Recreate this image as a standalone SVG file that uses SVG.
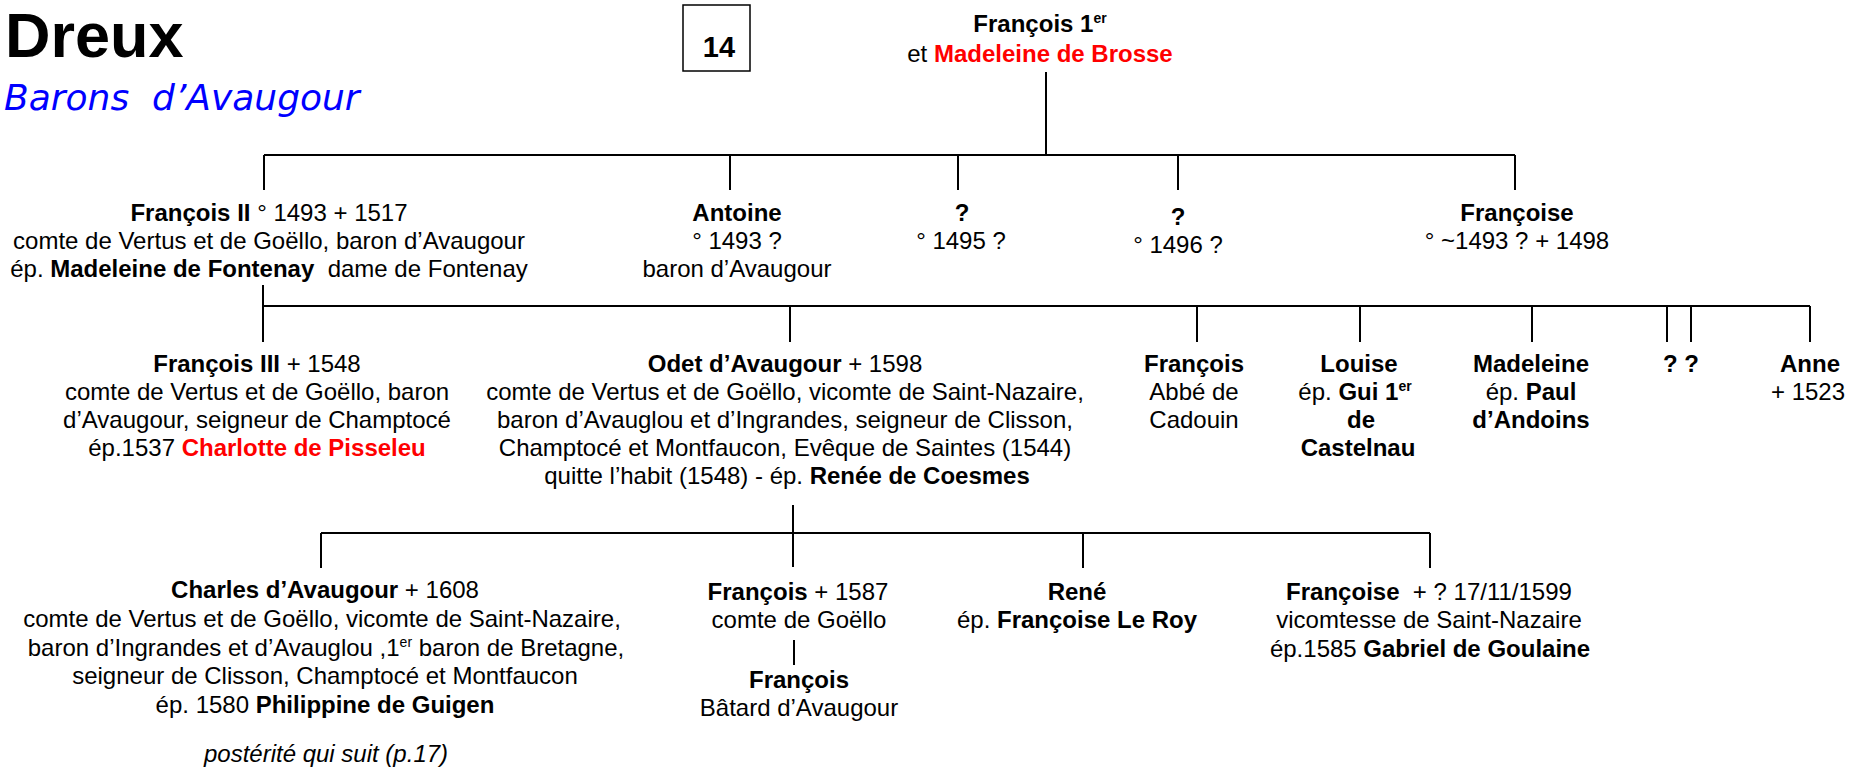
<svg xmlns="http://www.w3.org/2000/svg" width="1863" height="770" viewBox="0 0 1863 770">
<style>
.t{font-family:"Liberation Sans",Arial,sans-serif;font-size:24px;fill:#000;text-anchor:middle}
.b{font-weight:bold}
.r{fill:#ff0000}
.i{font-style:italic}
.ln{stroke:#000;stroke-width:2;fill:none}
.sup{font-size:14px}
</style>
<rect width="1863" height="770" fill="#fff"/>
<g id="title">
<text x="5" y="57" font-family="Liberation Sans,Arial,sans-serif" font-size="63" font-weight="bold" fill="#000">Dreux</text>
<text x="4" y="110" font-family="DejaVu Sans,Verdana,sans-serif" font-size="36" font-style="italic" fill="#0000ff" xml:space="preserve">Barons  d’Avaugour</text>
</g>
<g id="page-box">
<rect x="683" y="5" width="67" height="66" fill="none" stroke="#000" stroke-width="1.5"/>
<text class="t b" x="719" y="57" style="font-size:29px">14</text>
</g>
<g id="connectors" class="ln">
<path d="M1046 72V155M264 155H1515M264 155V190M730 155V190M958 155V190M1178 155V190M1515 155V190"/>
<path d="M263 285V306M263 306H1810M263 306V342M790 306V342M1197 306V342M1360 306V342M1532 306V342M1667 306V342M1691 306V342M1810 306V342"/>
<path d="M793 505V567M321 533H1430M321 533V568M1083 533V568M1430 533V568M794 640V665"/>
</g>
<g id="n-root">
<text class="t" x="1040" y="32"><tspan class="b">François 1</tspan><tspan class="b sup" dy="-9">er</tspan></text>
<text class="t" x="1040" y="62">et <tspan class="b r">Madeleine de Brosse</tspan></text>
</g>
<g id="n-francois2">
<text class="t" x="269" y="221"><tspan class="b">François II</tspan> ° 1493 + 1517</text>
<text class="t" x="269" y="249">comte de Vertus et de Goëllo, baron d’Avaugour</text>
<text class="t" x="269" y="277" xml:space="preserve">ép. <tspan class="b">Madeleine de Fontenay</tspan>  dame de Fontenay</text>
</g>
<g id="n-antoine">
<text class="t b" x="737" y="221">Antoine</text>
<text class="t" x="737" y="249">° 1493 ?</text>
<text class="t" x="737" y="277">baron d’Avaugour</text>
</g>
<g id="n-q1495">
<text class="t b" x="962" y="221">?</text>
<text class="t" x="961" y="249">° 1495 ?</text>
</g>
<g id="n-q1496">
<text class="t b" x="1178" y="225">?</text>
<text class="t" x="1178" y="253">° 1496 ?</text>
</g>
<g id="n-francoise1">
<text class="t b" x="1517" y="221">Françoise</text>
<text class="t" x="1517" y="249">° ~1493 ? + 1498</text>
</g>
<g id="n-francois3">
<text class="t" x="257" y="372"><tspan class="b">François III</tspan> + 1548</text>
<text class="t" x="257" y="400">comte de Vertus et de Goëllo, baron</text>
<text class="t" x="257" y="428">d’Avaugour, seigneur de Champtocé</text>
<text class="t" x="257" y="456">ép.1537 <tspan class="b r">Charlotte de Pisseleu</tspan></text>
</g>
<g id="n-odet">
<text class="t" x="785" y="372"><tspan class="b">Odet d’Avaugour</tspan> + 1598</text>
<text class="t" x="785" y="400">comte de Vertus et de Goëllo, vicomte de Saint-Nazaire,</text>
<text class="t" x="785" y="428">baron d’Avauglou et d’Ingrandes, seigneur de Clisson,</text>
<text class="t" x="785" y="456">Champtocé et Montfaucon, Evêque de Saintes (1544)</text>
<text class="t" x="787" y="484">quitte l’habit (1548) - ép. <tspan class="b">Renée de Coesmes</tspan></text>
</g>
<g id="n-francois-abbe">
<text class="t b" x="1194" y="372">François</text>
<text class="t" x="1194" y="400">Abbé de</text>
<text class="t" x="1194" y="428">Cadouin</text>
</g>
<g id="n-louise">
<text class="t b" x="1359" y="372">Louise</text>
<text class="t" x="1355" y="400">ép. <tspan class="b">Gui 1</tspan><tspan class="b sup" dy="-9">er</tspan></text>
<text class="t b" x="1361" y="428">de</text>
<text class="t b" x="1358" y="456">Castelnau</text>
</g>
<g id="n-madeleine">
<text class="t b" x="1531" y="372">Madeleine</text>
<text class="t" x="1531" y="400">ép. <tspan class="b">Paul</tspan></text>
<text class="t b" x="1531" y="428">d’Andoins</text>
</g>
<g id="n-qq">
<text class="t b" x="1681" y="372">? ?</text>
</g>
<g id="n-anne">
<text class="t b" x="1810" y="372">Anne</text>
<text class="t" x="1808" y="400">+ 1523</text>
</g>
<g id="n-charles">
<text class="t" x="325" y="598"><tspan class="b">Charles d’Avaugour</tspan> + 1608</text>
<text class="t" x="322" y="627">comte de Vertus et de Goëllo, vicomte de Saint-Nazaire,</text>
<text class="t" x="326" y="656">baron d’Ingrandes et d’Avauglou ,1<tspan class="sup" dy="-9">er</tspan><tspan dy="9"> baron de Bretagne,</tspan></text>
<text class="t" x="325" y="684">seigneur de Clisson, Champtocé et Montfaucon</text>
<text class="t" x="325" y="713">ép. 1580 <tspan class="b">Philippine de Guigen</tspan></text>
<text class="t i" x="326" y="762">postérité qui suit (p.17)</text>
</g>
<g id="n-francois-goello">
<text class="t" x="798" y="600"><tspan class="b">François</tspan> + 1587</text>
<text class="t" x="799" y="628">comte de Goëllo</text>
</g>
<g id="n-francois-batard">
<text class="t b" x="799" y="688">François</text>
<text class="t" x="799" y="716">Bâtard d’Avaugour</text>
</g>
<g id="n-rene">
<text class="t b" x="1077" y="600">René</text>
<text class="t" x="1077" y="628">ép. <tspan class="b">Françoise Le Roy</tspan></text>
</g>
<g id="n-francoise2">
<text class="t" x="1429" y="600" xml:space="preserve"><tspan class="b">Françoise</tspan>  + ? 17/11/1599</text>
<text class="t" x="1429" y="628">vicomtesse de Saint-Nazaire</text>
<text class="t" x="1430" y="657">ép.1585 <tspan class="b">Gabriel de Goulaine</tspan></text>
</g>
</svg>
